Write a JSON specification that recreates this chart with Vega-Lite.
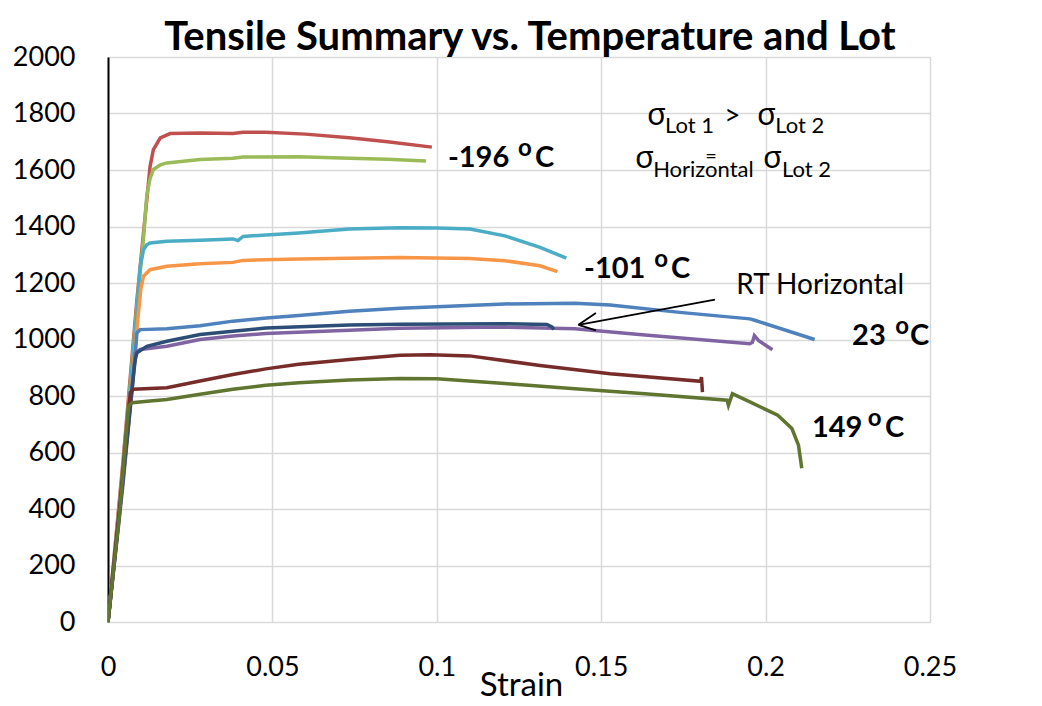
{
  "$schema": "https://vega.github.io/schema/vega-lite/v6.json",
  "width": 822,
  "height": 565,
  "autosize": {"type": "none"},
  "padding": {"left": 108, "top": 57, "right": 112, "bottom": 84},
  "background": "white",
  "datasets": {
    "curves": [
      {"s": "a", "x": 0, "y": 0}, {"s": "a", "x": 0.0045, "y": 560}, {"s": "a", "x": 0.0088, "y": 1141}, {"s": "a", "x": 0.0108, "y": 1377}, {"s": "a", "x": 0.0128, "y": 1613}, {"s": "a", "x": 0.0138, "y": 1672}, {"s": "a", "x": 0.0159, "y": 1714}, {"s": "a", "x": 0.0189, "y": 1729}, {"s": "a", "x": 0.028, "y": 1731}, {"s": "a", "x": 0.038, "y": 1729}, {"s": "a", "x": 0.0411, "y": 1734}, {"s": "a", "x": 0.048, "y": 1734}, {"s": "a", "x": 0.06, "y": 1727}, {"s": "a", "x": 0.0734, "y": 1714}, {"s": "a", "x": 0.085, "y": 1700}, {"s": "a", "x": 0.0985, "y": 1681},
      {"s": "b", "x": 0, "y": 0}, {"s": "b", "x": 0.0045, "y": 540}, {"s": "b", "x": 0.0088, "y": 1120}, {"s": "b", "x": 0.0108, "y": 1360}, {"s": "b", "x": 0.0118, "y": 1510}, {"s": "b", "x": 0.0128, "y": 1570}, {"s": "b", "x": 0.0138, "y": 1602}, {"s": "b", "x": 0.0159, "y": 1618}, {"s": "b", "x": 0.0179, "y": 1625}, {"s": "b", "x": 0.028, "y": 1637}, {"s": "b", "x": 0.038, "y": 1642}, {"s": "b", "x": 0.0411, "y": 1646}, {"s": "b", "x": 0.058, "y": 1647}, {"s": "b", "x": 0.0734, "y": 1642}, {"s": "b", "x": 0.085, "y": 1638}, {"s": "b", "x": 0.0967, "y": 1632},
      {"s": "c", "x": 0, "y": 0}, {"s": "c", "x": 0.0045, "y": 520}, {"s": "c", "x": 0.0088, "y": 1100}, {"s": "c", "x": 0.0098, "y": 1259}, {"s": "c", "x": 0.0108, "y": 1318}, {"s": "c", "x": 0.0118, "y": 1335}, {"s": "c", "x": 0.0128, "y": 1342}, {"s": "c", "x": 0.0179, "y": 1348}, {"s": "c", "x": 0.028, "y": 1351}, {"s": "c", "x": 0.038, "y": 1356}, {"s": "c", "x": 0.0395, "y": 1350}, {"s": "c", "x": 0.0411, "y": 1365}, {"s": "c", "x": 0.058, "y": 1377}, {"s": "c", "x": 0.0734, "y": 1391}, {"s": "c", "x": 0.0888, "y": 1396}, {"s": "c", "x": 0.1, "y": 1395}, {"s": "c", "x": 0.1101, "y": 1391}, {"s": "c", "x": 0.1207, "y": 1367}, {"s": "c", "x": 0.1314, "y": 1326}, {"s": "c", "x": 0.1394, "y": 1288},
      {"s": "d", "x": 0, "y": 0}, {"s": "d", "x": 0.0045, "y": 500}, {"s": "d", "x": 0.0093, "y": 1100}, {"s": "d", "x": 0.01, "y": 1180}, {"s": "d", "x": 0.0108, "y": 1224}, {"s": "d", "x": 0.0128, "y": 1247}, {"s": "d", "x": 0.0179, "y": 1259}, {"s": "d", "x": 0.028, "y": 1268}, {"s": "d", "x": 0.038, "y": 1273}, {"s": "d", "x": 0.0411, "y": 1280}, {"s": "d", "x": 0.058, "y": 1285}, {"s": "d", "x": 0.0734, "y": 1288}, {"s": "d", "x": 0.0888, "y": 1290}, {"s": "d", "x": 0.11, "y": 1287}, {"s": "d", "x": 0.1207, "y": 1279}, {"s": "d", "x": 0.1314, "y": 1261}, {"s": "d", "x": 0.1367, "y": 1240},
      {"s": "e", "x": 0, "y": 0}, {"s": "e", "x": 0.0045, "y": 500}, {"s": "e", "x": 0.0083, "y": 950}, {"s": "e", "x": 0.0088, "y": 1024}, {"s": "e", "x": 0.0098, "y": 1035}, {"s": "e", "x": 0.0179, "y": 1038}, {"s": "e", "x": 0.028, "y": 1049}, {"s": "e", "x": 0.038, "y": 1065}, {"s": "e", "x": 0.0482, "y": 1076}, {"s": "e", "x": 0.058, "y": 1085}, {"s": "e", "x": 0.0734, "y": 1100}, {"s": "e", "x": 0.0888, "y": 1111}, {"s": "e", "x": 0.1207, "y": 1126}, {"s": "e", "x": 0.142, "y": 1128}, {"s": "e", "x": 0.1527, "y": 1122}, {"s": "e", "x": 0.1739, "y": 1096}, {"s": "e", "x": 0.1952, "y": 1073}, {"s": "e", "x": 0.1962, "y": 1070}, {"s": "e", "x": 0.2149, "y": 1000},
      {"s": "f", "x": 0, "y": 0}, {"s": "f", "x": 0.0045, "y": 480}, {"s": "f", "x": 0.0078, "y": 880}, {"s": "f", "x": 0.0083, "y": 953}, {"s": "f", "x": 0.0098, "y": 965}, {"s": "f", "x": 0.0179, "y": 976}, {"s": "f", "x": 0.028, "y": 1000}, {"s": "f", "x": 0.038, "y": 1012}, {"s": "f", "x": 0.048, "y": 1021}, {"s": "f", "x": 0.0734, "y": 1033}, {"s": "f", "x": 0.0888, "y": 1040}, {"s": "f", "x": 0.1207, "y": 1044}, {"s": "f", "x": 0.142, "y": 1038}, {"s": "f", "x": 0.1633, "y": 1016}, {"s": "f", "x": 0.1952, "y": 985}, {"s": "f", "x": 0.196, "y": 990}, {"s": "f", "x": 0.1966, "y": 1014}, {"s": "f", "x": 0.1979, "y": 996}, {"s": "f", "x": 0.2021, "y": 964},
      {"s": "g", "x": 0, "y": 0}, {"s": "g", "x": 0.0045, "y": 500}, {"s": "g", "x": 0.0078, "y": 880}, {"s": "g", "x": 0.0083, "y": 929}, {"s": "g", "x": 0.0088, "y": 953}, {"s": "g", "x": 0.0118, "y": 976}, {"s": "g", "x": 0.0179, "y": 994}, {"s": "g", "x": 0.028, "y": 1018}, {"s": "g", "x": 0.038, "y": 1029}, {"s": "g", "x": 0.048, "y": 1041}, {"s": "g", "x": 0.0734, "y": 1051}, {"s": "g", "x": 0.0888, "y": 1054}, {"s": "g", "x": 0.1207, "y": 1056}, {"s": "g", "x": 0.1335, "y": 1053}, {"s": "g", "x": 0.135, "y": 1045}, {"s": "g", "x": 0.1356, "y": 1036},
      {"s": "h", "x": 0, "y": 0}, {"s": "h", "x": 0.0035, "y": 400}, {"s": "h", "x": 0.0063, "y": 760}, {"s": "h", "x": 0.0068, "y": 812}, {"s": "h", "x": 0.0078, "y": 824}, {"s": "h", "x": 0.0179, "y": 829}, {"s": "h", "x": 0.028, "y": 853}, {"s": "h", "x": 0.038, "y": 876}, {"s": "h", "x": 0.048, "y": 896}, {"s": "h", "x": 0.058, "y": 912}, {"s": "h", "x": 0.0734, "y": 929}, {"s": "h", "x": 0.0888, "y": 944}, {"s": "h", "x": 0.098, "y": 946}, {"s": "h", "x": 0.11, "y": 942}, {"s": "h", "x": 0.1314, "y": 908}, {"s": "h", "x": 0.1527, "y": 879}, {"s": "h", "x": 0.1803, "y": 852}, {"s": "h", "x": 0.1805, "y": 867}, {"s": "h", "x": 0.1808, "y": 814},
      {"s": "i", "x": 0, "y": 0}, {"s": "i", "x": 0.0035, "y": 380}, {"s": "i", "x": 0.0058, "y": 700}, {"s": "i", "x": 0.0063, "y": 765}, {"s": "i", "x": 0.0073, "y": 776}, {"s": "i", "x": 0.0128, "y": 782}, {"s": "i", "x": 0.0179, "y": 788}, {"s": "i", "x": 0.028, "y": 806}, {"s": "i", "x": 0.038, "y": 824}, {"s": "i", "x": 0.048, "y": 838}, {"s": "i", "x": 0.058, "y": 847}, {"s": "i", "x": 0.0734, "y": 857}, {"s": "i", "x": 0.0888, "y": 862}, {"s": "i", "x": 0.1, "y": 861}, {"s": "i", "x": 0.1207, "y": 844}, {"s": "i", "x": 0.142, "y": 826}, {"s": "i", "x": 0.1633, "y": 808}, {"s": "i", "x": 0.1883, "y": 785}, {"s": "i", "x": 0.1887, "y": 767}, {"s": "i", "x": 0.1899, "y": 808}, {"s": "i", "x": 0.1952, "y": 779}, {"s": "i", "x": 0.2037, "y": 732}, {"s": "i", "x": 0.208, "y": 685}, {"s": "i", "x": 0.21, "y": 626}, {"s": "i", "x": 0.211, "y": 544}
    ],
    "title": [{"t": "Tensile Summary vs. Temperature and Lot", "x": 0.1283, "y": 2025}],
    "tempnums": [
      {"t": "-196", "x": 0.1034, "y": 1611},
      {"t": "-101", "x": 0.1448, "y": 1218},
      {"t": "23", "x": 0.2263, "y": 981},
      {"t": "149", "x": 0.2141, "y": 655}
    ],
    "tempo": [
      {"t": "o", "x": 0.1247, "y": 1650},
      {"t": "o", "x": 0.1661, "y": 1257},
      {"t": "o", "x": 0.2394, "y": 1020},
      {"t": "o", "x": 0.2311, "y": 694}
    ],
    "tempc": [
      {"t": "C", "x": 0.1299, "y": 1611},
      {"t": "C", "x": 0.1712, "y": 1218},
      {"t": "C", "x": 0.2439, "y": 981},
      {"t": "C", "x": 0.2363, "y": 655}
    ],
    "rt": [{"t": "RT Horizontal", "x": 0.1911, "y": 1160}],
    "arrow": [
      {"x": 0.1846, "y": 1141, "x2": 0.1431, "y2": 1052},
      {"x": 0.1431, "y": 1052, "x2": 0.1484, "y2": 1094},
      {"x": 0.1431, "y": 1052, "x2": 0.1484, "y2": 1032}
    ],
    "sigma": [
      {"t": "σ", "x": 0.1639, "y": 1759},
      {"t": "σ", "x": 0.1974, "y": 1759},
      {"t": "σ", "x": 0.1603, "y": 1607},
      {"t": "σ", "x": 0.1992, "y": 1607}
    ],
    "subs": [
      {"t": "Lot 1", "x": 0.1694, "y": 1731},
      {"t": "Lot 2", "x": 0.2029, "y": 1731},
      {"t": "Horizontal", "x": 0.1658, "y": 1575},
      {"t": "Lot 2", "x": 0.205, "y": 1575}
    ],
    "ops": [
      {"t": ">", "x": 0.1874, "y": 1759}
    ],
    "eq": [
      {"t": "=", "x": 0.1834, "y": 1646}
    ]
  },
  "layer": [
    {
      "data": {"name": "curves"},
      "mark": {"type": "line", "strokeWidth": 3.5, "clip": true},
      "encoding": {
        "x": {"field": "x", "type": "quantitative", "scale": {"domain": [0, 0.25], "nice": false, "zero": false},
          "axis": {"values": [0, 0.05, 0.1, 0.15, 0.2, 0.25], "format": ".2~f", "domain": false, "labelFlush": false, "labelFontSize": 27, "labelPadding": 32, "title": "Strain", "titleFontSize": 33, "titleFontWeight": "normal", "titleBaseline": "alphabetic", "titleY": 73, "titleX": 413}},
        "y": {"field": "y", "type": "quantitative", "scale": {"domain": [0, 2000], "nice": false},
          "axis": {"values": [0, 200, 400, 600, 800, 1000, 1200, 1400, 1600, 1800, 2000], "format": "d", "domain": true, "domainColor": "#000", "domainWidth": 2, "labelFlush": false, "labelFontSize": 27, "labelPadding": 33, "title": null}},
        "color": {"field": "s", "type": "nominal", "legend": null,
          "scale": {"domain": ["a", "b", "c", "d", "e", "f", "g", "h", "i"], "range": ["#C0504D", "#9BBB59", "#4BACC6", "#F79646", "#4F81BD", "#8064A2", "#2C4D75", "#772C2A", "#5F7530"]}}
      }
    },
    {
      "data": {"name": "arrow"},
      "mark": {"type": "rule", "color": "#000", "strokeWidth": 1.8},
      "encoding": {
        "x": {"field": "x", "type": "quantitative"},
        "y": {"field": "y", "type": "quantitative"},
        "x2": {"field": "x2"},
        "y2": {"field": "y2"}
      }
    },
    {
      "data": {"name": "title"},
      "mark": {"type": "text", "font": "Lato", "fontSize": 40, "fontWeight": "bold", "align": "center", "baseline": "alphabetic", "color": "#000"},
      "encoding": {"x": {"field": "x", "type": "quantitative"}, "y": {"field": "y", "type": "quantitative"}, "text": {"field": "t"}}
    },
    {
      "data": {"name": "tempnums"},
      "mark": {"type": "text", "font": "Lato", "fontSize": 29, "fontWeight": "bold", "align": "left", "baseline": "alphabetic", "color": "#000"},
      "encoding": {"x": {"field": "x", "type": "quantitative"}, "y": {"field": "y", "type": "quantitative"}, "text": {"field": "t"}}
    },
    {
      "data": {"name": "tempo"},
      "mark": {"type": "text", "font": "Lato", "fontSize": 24, "fontWeight": "bold", "align": "left", "baseline": "alphabetic", "color": "#000"},
      "encoding": {"x": {"field": "x", "type": "quantitative"}, "y": {"field": "y", "type": "quantitative"}, "text": {"field": "t"}}
    },
    {
      "data": {"name": "tempc"},
      "mark": {"type": "text", "font": "Lato", "fontSize": 29, "fontWeight": "bold", "align": "left", "baseline": "alphabetic", "color": "#000"},
      "encoding": {"x": {"field": "x", "type": "quantitative"}, "y": {"field": "y", "type": "quantitative"}, "text": {"field": "t"}}
    },
    {
      "data": {"name": "rt"},
      "mark": {"type": "text", "font": "Lato", "fontSize": 28, "align": "left", "baseline": "alphabetic", "color": "#000"},
      "encoding": {"x": {"field": "x", "type": "quantitative"}, "y": {"field": "y", "type": "quantitative"}, "text": {"field": "t"}}
    },
    {
      "data": {"name": "sigma"},
      "mark": {"type": "text", "font": "Noto Sans", "fontSize": 31, "align": "left", "baseline": "alphabetic", "color": "#000"},
      "encoding": {"x": {"field": "x", "type": "quantitative"}, "y": {"field": "y", "type": "quantitative"}, "text": {"field": "t"}}
    },
    {
      "data": {"name": "subs"},
      "mark": {"type": "text", "font": "Lato", "fontSize": 22, "align": "left", "baseline": "alphabetic", "color": "#000"},
      "encoding": {"x": {"field": "x", "type": "quantitative"}, "y": {"field": "y", "type": "quantitative"}, "text": {"field": "t"}}
    },
    {
      "data": {"name": "ops"},
      "mark": {"type": "text", "font": "Lato", "fontSize": 28, "align": "left", "baseline": "alphabetic", "color": "#000"},
      "encoding": {"x": {"field": "x", "type": "quantitative"}, "y": {"field": "y", "type": "quantitative"}, "text": {"field": "t"}}
    },
    {
      "data": {"name": "eq"},
      "mark": {"type": "text", "font": "Lato", "fontSize": 20, "align": "center", "baseline": "middle", "color": "#000"},
      "encoding": {"x": {"field": "x", "type": "quantitative"}, "y": {"field": "y", "type": "quantitative"}, "text": {"field": "t"}}
    }
  ],
  "config": {
    "view": {"stroke": null},
    "axis": {"labelFont": "Lato", "titleFont": "Lato", "gridColor": "#D9D9D9", "gridWidth": 1.5, "ticks": false, "labelColor": "#000", "titleColor": "#000"}
  }
}
